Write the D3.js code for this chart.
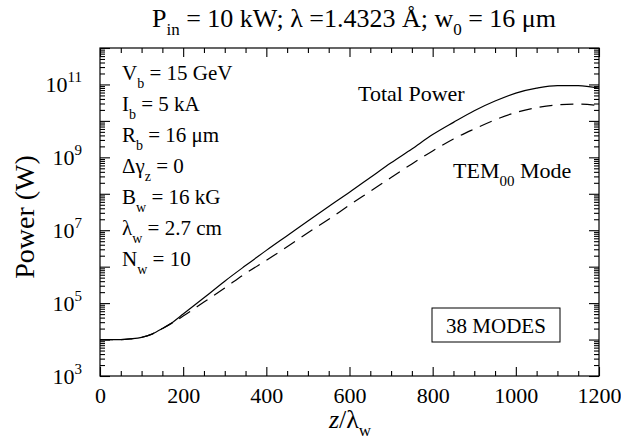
<!DOCTYPE html>
<html>
<head>
<meta charset="utf-8">
<script src="https://cdn.jsdelivr.net/npm/d3@7"></script>
<style>
  body { margin: 0; background: #fff; }
  svg { font-family: "Liberation Serif", "DejaVu Serif", serif; }
  .axis path, .axis line { stroke: #000; stroke-width: 1.1; }
  .axis text { font-size: 22px; fill: #000; font-family: "Liberation Serif", serif; }
</style>
</head>
<body>
<svg width="621" height="438"></svg>
<script>
// z / lambda_w sample points
var zPos = [0, 50, 75, 100, 125, 150, 175, 200, 250, 300, 350, 400, 450, 500, 550,
            600, 650, 700, 750, 800, 850, 900, 950, 1000, 1050, 1100, 1150, 1200];
// total power (W)
var totalPower = [1.0e4, 1.0e4, 1.05e4, 1.15e4, 1.41e4, 2.0e4, 3.0e4, 5.0e4, 1.4e5, 4.0e5, 1.07e6,
                  2.8e6, 7.1e6, 1.8e7, 4.5e7, 1.1e8, 2.8e8, 7.1e8, 1.7e9, 4.2e9, 9.1e9, 1.9e10,
                  3.5e10, 5.8e10, 7.9e10, 9.3e10, 9.3e10, 7.9e10];
// TEM00 mode power (W)
var temPower = [1.0e4, 1.0e4, 1.05e4, 1.15e4, 1.41e4, 2.0e4, 2.9e4, 4.4e4, 1.07e5, 2.6e5, 6.5e5,
                1.5e6, 3.5e6, 8.5e6, 2.0e7, 4.9e7, 1.17e8, 2.8e8, 6.6e8, 1.5e9, 3.2e9, 6.0e9,
                1.07e10, 1.7e10, 2.3e10, 2.75e10, 2.9e10, 2.6e10];

var xMajor = [0, 200, 400, 600, 800, 1000, 1200];
var yLabelExp = [3, 5, 7, 9, 11];
var params = [
  ["V", "b", " = 15 GeV"],
  ["I", "b", " = 5 kA"],
  ["R", "b", " = 16 \u03bcm"],
  ["\u0394\u03b3", "z", " = 0"],
  ["B", "w", " = 16 kG"],
  ["\u03bb", "w", " = 2.7 cm"],
  ["N", "w", " = 10"]
];

var svg = d3.select("svg"),
    pLeft = 100, pRight = 599, pTop = 48, pBottom = 376;

var x = d3.scaleLinear().domain([0, 1200]).range([pLeft, pRight]);
var y = d3.scaleLog().domain([1e3, 1e12]).range([pBottom, pTop]);

var xMinor = d3.range(0, 1201, 50).filter(function(d) { return d % 200 !== 0; });
var yMajor = d3.range(3, 13).map(function(e) { return Math.pow(10, e); });
var yMinor = [];
yMajor.slice(0, -1).forEach(function(p) {
  for (var k = 2; k <= 9; k++) yMinor.push(p * k);
});

function addAxis(axis, tx, ty) {
  var g = svg.append("g").attr("class", "axis")
      .attr("transform", "translate(" + tx + "," + ty + ")")
      .call(axis);
  g.select(".domain").remove();
  return g;
}

// bottom
addAxis(d3.axisBottom(x).tickValues(xMajor).tickSize(-9).tickPadding(11).tickFormat(d3.format("d")), 0, pBottom);
addAxis(d3.axisBottom(x).tickValues(xMinor).tickSize(-5).tickFormat(""), 0, pBottom);
// top
addAxis(d3.axisTop(x).tickValues(xMajor).tickSize(-9).tickFormat(""), 0, pTop);
addAxis(d3.axisTop(x).tickValues(xMinor).tickSize(-5).tickFormat(""), 0, pTop);
// left
addAxis(d3.axisLeft(y).tickValues(yMajor).tickSize(-10).tickFormat(""), pLeft, 0);
addAxis(d3.axisLeft(y).tickValues(yMinor).tickSize(-5).tickFormat(""), pLeft, 0);
// right
addAxis(d3.axisRight(y).tickValues(yMajor).tickSize(-10).tickFormat(""), pRight, 0);
addAxis(d3.axisRight(y).tickValues(yMinor).tickSize(-5).tickFormat(""), pRight, 0);

// frame
svg.append("rect")
    .attr("x", pLeft).attr("y", pTop)
    .attr("width", pRight - pLeft).attr("height", pBottom - pTop)
    .attr("fill", "none").attr("stroke", "#000").attr("stroke-width", 1.2);

// y tick labels 10^n
yLabelExp.forEach(function(e) {
  var t = svg.append("text")
      .attr("x", 82).attr("y", y(Math.pow(10, e)) + 8)
      .attr("text-anchor", "end")
      .style("font-size", "22px");
  t.append("tspan").text("10");
  t.append("tspan").attr("dy", -10).style("font-size", "15px").text(e);
});

// curves
var line = d3.line()
    .x(function(d) { return x(d[0]); })
    .y(function(d) { return y(d[1]); })
    .curve(d3.curveMonotoneX);

svg.append("path")
    .datum(d3.zip(zPos, totalPower))
    .attr("d", line)
    .attr("fill", "none").attr("stroke", "#000").attr("stroke-width", 1.2);

svg.append("path")
    .datum(d3.zip(zPos, temPower))
    .attr("d", line)
    .attr("fill", "none").attr("stroke", "#000").attr("stroke-width", 1.2)
    .attr("stroke-dasharray", "13,8");

// title
var title = svg.append("text")
    .attr("x", 354).attr("y", 27)
    .attr("text-anchor", "middle")
    .style("font-size", "26px");
title.append("tspan").text("P");
title.append("tspan").attr("dy", 8).style("font-size", "17px").text("in");
title.append("tspan").attr("dy", -8).text(" = 10 kW; \u03bb =1.4323 \u00c5; w");
title.append("tspan").attr("dy", 8).style("font-size", "17px").text("0");
title.append("tspan").attr("dy", -8).text(" = 16 \u03bcm");

// parameter list
params.forEach(function(p, i) {
  var t = svg.append("text")
      .attr("x", 122).attr("y", 80 + i * 31)
      .style("font-size", "21px");
  t.append("tspan").text(p[0]);
  t.append("tspan").attr("dy", 8).style("font-size", "14px").text(p[1]);
  t.append("tspan").attr("dy", -8).text(p[2]);
});

// curve labels
svg.append("text")
    .attr("x", 358).attr("y", 101)
    .style("font-size", "22px")
    .text("Total Power");

var tem = svg.append("text")
    .attr("x", 453).attr("y", 178)
    .style("font-size", "22px");
tem.append("tspan").text("TEM");
tem.append("tspan").attr("dy", 8).style("font-size", "15px").text("00");
tem.append("tspan").attr("dy", -8).text(" Mode");

// modes box
svg.append("rect")
    .attr("x", 432).attr("y", 308)
    .attr("width", 128).attr("height", 34)
    .attr("fill", "none").attr("stroke", "#000").attr("stroke-width", 1);
svg.append("text")
    .attr("x", 496).attr("y", 333)
    .attr("text-anchor", "middle")
    .style("font-size", "21px")
    .text("38 MODES");

// axis titles
svg.append("text")
    .attr("transform", "translate(34,217) rotate(-90)")
    .attr("text-anchor", "middle")
    .style("font-size", "28px")
    .text("Power (W)");

var xt = svg.append("text")
    .attr("x", 350).attr("y", 428)
    .attr("text-anchor", "middle")
    .style("font-size", "26px");
xt.append("tspan").style("font-style", "italic").text("z");
xt.append("tspan").text("/\u03bb");
xt.append("tspan").attr("dy", 8).style("font-size", "17px").text("w");
</script>
</body>
</html>
